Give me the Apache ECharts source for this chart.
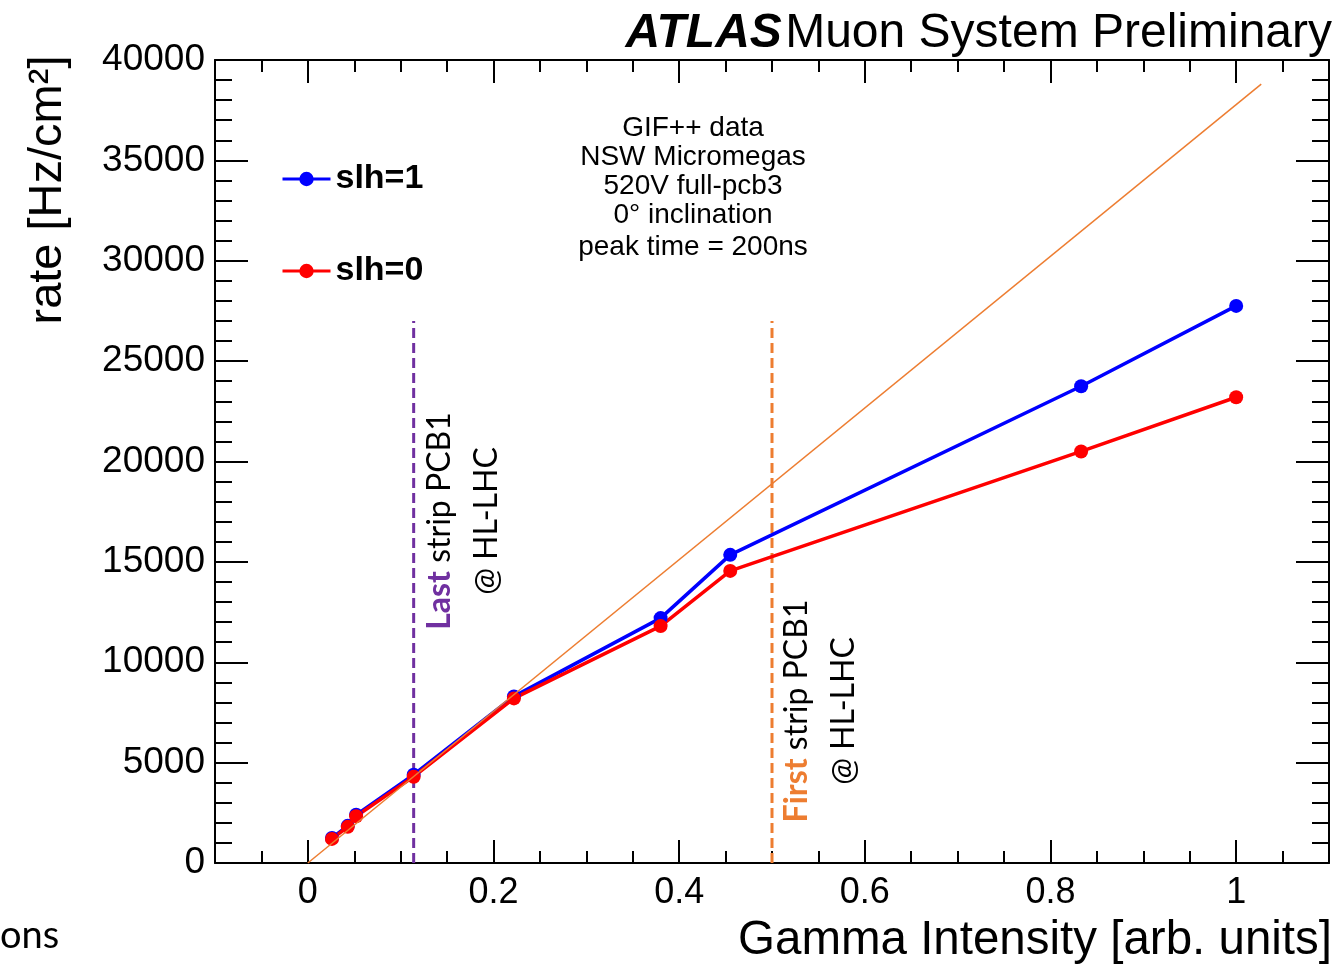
<!DOCTYPE html>
<html>
<head>
<meta charset="utf-8">
<script src="https://cdn.jsdelivr.net/npm/echarts@6/dist/echarts.min.js"></script>
<style>
  html, body { margin: 0; padding: 0; background: #fff; }
  #main { width: 1337px; height: 966px; }
</style>
</head>
<body>
<div id="main"></div>
<script>
// 数据: 横轴为 gamma 强度, 纵轴为计数率
var gammaX = [0.026, 0.043, 0.052, 0.114, 0.222, 0.380, 0.455, 0.833, 1.0];
var slh1 = [1250, 1850, 2400, 4400, 8300, 12200, 15350, 23750, 27750];
var slh0 = [1200, 1800, 2330, 4300, 8200, 11800, 14550, 20500, 23200];

// 线性参考线 (两端点)
var refX = [0, 1.027];
var refY = [0, 38800];

// 竖直虚线: HL-LHC 位置
var lastStripX = 0.114;
var firstStripX = 0.5;
var stripLineTop = 27000;

// 刻度
var xMajorTicks = [0, 0.2, 0.4, 0.6, 0.8, 1];

var FONT = 'Liberation Sans';
var CAL = 'Lato';

function pairs(xs, ys) {
  return xs.map(function (x, i) { return [x, ys[i]]; });
}

var chart = echarts.init(document.getElementById('main'));

// x 轴: 主刻度 + 次刻度, 上下各一份
function xAxisMajor(pos, showLabel) {
  return {
    type: 'value', position: pos, min: -0.1, max: 1.1,
    axisLine: { show: true, onZero: false, lineStyle: { color: '#000', width: 2 } },
    axisTick: { show: true, inside: true, length: 23, customValues: xMajorTicks,
      lineStyle: { color: '#000', width: 2 } },
    axisLabel: { show: showLabel, customValues: xMajorTicks, margin: 12,
      fontSize: 36, color: '#000', fontFamily: FONT,
      formatter: function (v) { return String(v); } },
    splitLine: { show: false }
  };
}
function xAxisMinor(pos) {
  return {
    type: 'value', position: pos, min: -0.1, max: 1.1, interval: 0.05,
    axisLine: { show: false, onZero: false },
    axisTick: { show: true, inside: true, length: 12, lineStyle: { color: '#000', width: 2 } },
    axisLabel: { show: false },
    splitLine: { show: false }
  };
}
function yAxisOne(pos, showLabel) {
  return {
    type: 'value', position: pos, min: 0, max: 40000, interval: 5000,
    axisLine: { show: true, onZero: false, lineStyle: { color: '#000', width: 2 } },
    axisTick: { show: true, inside: true, length: 33, lineStyle: { color: '#000', width: 2 } },
    minorTick: { show: true, splitNumber: 5, length: 17, lineStyle: { color: '#000', width: 2 } },
    axisLabel: { show: showLabel, margin: 10, fontSize: 37, color: '#000', fontFamily: FONT,
      formatter: function (v) { return String(v); } },
    splitLine: { show: false }
  };
}

var option = {
  animation: false,
  backgroundColor: '#fff',
  grid: { left: 215, right: 8, top: 60, bottom: 103, containLabel: false },
  xAxis: [xAxisMajor('bottom', true), xAxisMinor('bottom'), xAxisMajor('top', false), xAxisMinor('top')],
  yAxis: [yAxisOne('left', true), yAxisOne('right', false)],
  legend: {
    orient: 'vertical', left: 276, top: 157, itemGap: 58, itemWidth: 48, itemHeight: 18,
    data: ['slh=1', 'slh=0'],
    lineStyle: { width: 3 },
    textStyle: { fontSize: 34, fontWeight: 'bold', color: '#000', fontFamily: FONT }
  },
  series: [
    {
      name: 'lastStrip', type: 'line', silent: true, symbol: 'none',
      data: [[lastStripX, 0], [lastStripX, stripLineTop]],
      lineStyle: { color: '#7030A0', width: 3, type: [10, 5] }
    },
    {
      name: 'firstStrip', type: 'line', silent: true, symbol: 'none',
      data: [[firstStripX, 0], [firstStripX, stripLineTop]],
      lineStyle: { color: '#ED7D31', width: 3, type: [10, 5] }
    },
    {
      name: 'slh=1', type: 'line', silent: true, symbol: 'circle', symbolSize: 14,
      data: pairs(gammaX, slh1),
      itemStyle: { color: '#0000FF' },
      lineStyle: { color: '#0000FF', width: 3.5 }
    },
    {
      name: 'slh=0', type: 'line', silent: true, symbol: 'circle', symbolSize: 14,
      data: pairs(gammaX, slh0),
      itemStyle: { color: '#FF0000' },
      lineStyle: { color: '#FF0000', width: 3.5 }
    },
    {
      name: 'ref', type: 'line', silent: true, symbol: 'none', z: 5,
      data: pairs(refX, refY),
      lineStyle: { color: '#ED7D31', width: 1.5 }
    }
  ],
  graphic: [
    // 标题
    {
      type: 'text', x: 1332, y: 34,
      style: {
        text: '{a|ATLAS} {b|Muon System Preliminary}',
        align: 'right', verticalAlign: 'middle',
        rich: {
          a: { fontSize: 48, fontWeight: 'bold', fontStyle: 'italic', fontFamily: FONT, fill: '#000' },
          b: { fontSize: 48, fontFamily: FONT, fill: '#000' }
        }
      }
    },
    // 说明文字
    {
      type: 'text', x: 693, y: 172,
      style: {
        text: 'GIF++ data\nNSW Micromegas\n520V full-pcb3\n0\u00b0 inclination',
        align: 'center', verticalAlign: 'middle',
        fontSize: 28, lineHeight: 29, fontFamily: FONT, fill: '#000'
      }
    },
    {
      type: 'text', x: 693, y: 247,
      style: {
        text: 'peak time = 200ns', align: 'center', verticalAlign: 'middle',
        fontSize: 28, fontFamily: FONT, fill: '#000'
      }
    },
    // y 轴标题
    {
      type: 'text', x: 48, y: 190, rotation: Math.PI / 2,
      style: {
        text: 'rate [Hz/cm\u00b2]', align: 'center', verticalAlign: 'middle',
        fontSize: 47, fontFamily: FONT, fill: '#000'
      }
    },
    // x 轴标题
    {
      type: 'text', x: 1332, y: 941,
      style: {
        text: 'Gamma Intensity [arb. units]', align: 'right', verticalAlign: 'middle',
        fontSize: 47.5, fontFamily: FONT, fill: '#000'
      }
    },
    // 竖线标注
    {
      type: 'text', x: 463, y: 521, rotation: Math.PI / 2,
      style: {
        text: '{c|Last} strip PCB1\n@ HL-LHC', align: 'center', verticalAlign: 'middle',
        fontSize: 32, lineHeight: 47, fontFamily: CAL, fill: '#000',
        rich: { c: { fontSize: 32, fontWeight: 'bold', fontFamily: CAL, fill: '#7030A0' } }
      }
    },
    {
      type: 'text', x: 820, y: 711, rotation: Math.PI / 2,
      style: {
        text: '{c|First} strip PCB1\n@ HL-LHC', align: 'center', verticalAlign: 'middle',
        fontSize: 32, lineHeight: 47, fontFamily: CAL, fill: '#000',
        rich: { c: { fontSize: 32, fontWeight: 'bold', fontFamily: CAL, fill: '#ED7D31' } }
      }
    },
    // 左下角残留文字
    {
      type: 'text', x: 0, y: 936,
      style: { text: 'ons', align: 'left', verticalAlign: 'middle',
        fontSize: 38, fontFamily: CAL, fill: '#000' }
    }
  ]
};

chart.setOption(option);
</script>
</body>
</html>
